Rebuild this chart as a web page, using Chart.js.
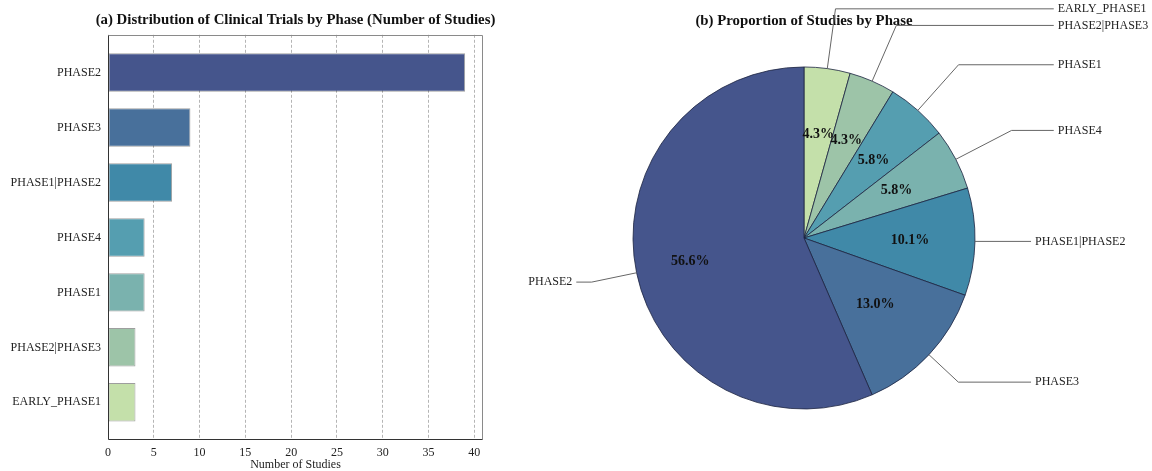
<!DOCTYPE html>
<html><head><meta charset="utf-8">
<script src="https://cdn.jsdelivr.net/npm/chart.js@4.4.1/dist/chart.umd.min.js"></script>
<style>
html,body{margin:0;padding:0;background:#fff;}
#wrap{position:relative;width:1152px;height:471px;overflow:hidden;}
#c1{position:absolute;left:0;top:0;}
#c2{position:absolute;left:500px;top:0;}
</style></head><body>
<div id="wrap"><canvas id="c1" width="520" height="471"></canvas><canvas id="c2" width="652" height="471"></canvas></div>
<script>
// ---------- data ----------
const barCategories = ['PHASE2','PHASE3','PHASE1|PHASE2','PHASE4','PHASE1','PHASE2|PHASE3','EARLY_PHASE1'];
const barCounts = [39, 9, 7, 4, 4, 3, 3];
const xTicks = [0, 5, 10, 15, 20, 25, 30, 35, 40];
const pieCategories = ['EARLY_PHASE1','PHASE2|PHASE3','PHASE1','PHASE4','PHASE1|PHASE2','PHASE3','PHASE2'];
const pieCounts = [3, 3, 4, 4, 7, 9, 39];
const piePctLabels = ['4.3%','4.3%','5.8%','5.8%','10.1%','13.0%','56.6%'];
const barTitle = '(a) Distribution of Clinical Trials by Phase (Number of Studies)';
const pieTitle = '(b) Proportion of Studies by Phase';

// ---------- style / layout ----------
const FONT = "'Liberation Serif','Times New Roman',serif";
const palette = ['#45558c','#48709b','#4089a8','#559eb0','#7ab2ae','#9dc4a8','#c4e0aa'];
const pieColorIndex = [6, 5, 3, 4, 2, 1, 0];
const pieLabelLayout = [[1.484,-1.340],[1.484,-1.243],[1.484,-1.013],[1.484,-0.629],[1.351,0.020],[1.351,0.843],[-1.355,0.258]];
const pctDist = [0.61,0.62,0.61,0.61,0.62,0.57,0.68];

const framePlugin = {
  id:'frame',
  afterDraw(chart){
    const a = chart.chartArea, ctx = chart.ctx;
    const L = Math.round(a.left)+0.5, R = Math.round(a.right)-0.5, T = Math.round(a.top)+0.5, B = Math.round(a.bottom)-0.5;
    ctx.save();
    ctx.lineWidth = 1;
    ctx.strokeStyle = '#8a8a8a';
    ctx.beginPath(); ctx.moveTo(L,T); ctx.lineTo(R,T); ctx.lineTo(R,B); ctx.stroke();
    ctx.strokeStyle = '#333';
    ctx.beginPath(); ctx.moveTo(L,T); ctx.lineTo(L,B); ctx.lineTo(R,B); ctx.stroke();
    // panel title, centred over the plot area
    ctx.fillStyle = '#111';
    ctx.font = 'bold 14.8px ' + FONT;
    ctx.textAlign = 'center'; ctx.textBaseline = 'middle';
    ctx.fillText(barTitle, (a.left + a.right)/2, 20.4);
    ctx.restore();
  }
};

new Chart(document.getElementById('c1'), {
  type:'bar',
  data:{datasets:[{
    data: barCounts.map((v,i)=>({x:v, y:i})),
    backgroundColor: palette,
    borderColor:'rgba(0,0,0,0.38)',
    borderWidth:1,
    borderSkipped:false,
    barPercentage:0.7,
    categoryPercentage:1
  }]},
  options:{
    indexAxis:'y', responsive:false, animation:false,
    layout:{padding:{left:0, right:37, top:34.8, bottom:0}},
    plugins:{ legend:{display:false}, tooltip:{enabled:false}, title:{display:false} },
    scales:{
      x:{type:'linear', min:0, max:40.95,
        afterBuildTicks:s=>{ s.ticks = xTicks.map(v=>({value:v})); },
        afterFit:s=>{ s.height = 31; },
        ticks:{font:{family:FONT, size:12}, color:'#222', padding:6},
        grid:{color:'#b5b5b5', lineWidth:1, drawTicks:false},
        border:{display:false, dash:[3,2]},
        title:{display:true, text:'Number of Studies', font:{family:FONT, size:12, lineHeight:1}, color:'#222', padding:{top:0, bottom:0}}
      },
      y:{type:'linear', reverse:true, offset:false, min:-0.685, max:6.685,
        afterBuildTicks:s=>{ s.ticks = barCategories.map((c,i)=>({value:i})); },
        afterFit:s=>{ s.width = 108; },
        ticks:{font:{family:FONT, size:12}, color:'#222', padding:7, callback:(v)=>barCategories[v]},
        grid:{display:false, drawTicks:false},
        border:{display:false}
      }
    }
  },
  plugins:[framePlugin]
});

const pieLabelPlugin = {
  id:'pieLabels',
  afterDatasetsDraw(chart){
    const ctx = chart.ctx;
    const meta = chart.getDatasetMeta(0);
    ctx.save();
    meta.data.forEach((arc, i)=>{
      const {x, y, startAngle, endAngle, outerRadius:R} = arc.getProps(['x','y','startAngle','endAngle','outerRadius'], true);
      const mid = (startAngle + endAngle)/2;
      const c = Math.cos(mid), s = Math.sin(mid);
      const d = R*pctDist[i];
      ctx.fillStyle = '#111';
      ctx.font = 'bold 14px ' + FONT;
      ctx.textAlign = 'center'; ctx.textBaseline = 'middle';
      ctx.fillText(piePctLabels[i], x + c*d, y + s*d);
      const px = x + c*R, py = y + s*R;
      const lx = x + R*pieLabelLayout[i][0], ly = y + R*pieLabelLayout[i][1];
      const side = Math.sign(pieLabelLayout[i][0]);
      let cx = px;
      if (Math.abs(s) > 1e-3) {
        const t = (ly - py)/s;
        if (t > 0) cx = px + t*c;
      }
      const endX = lx - side*4;
      ctx.strokeStyle = '#666'; ctx.lineWidth = 1;
      ctx.beginPath(); ctx.moveTo(px, py); ctx.lineTo(cx, ly); ctx.lineTo(endX, ly); ctx.stroke();
      ctx.fillStyle = '#222';
      ctx.font = '12px ' + FONT;
      ctx.textAlign = side > 0 ? 'left' : 'right';
      ctx.fillText(pieCategories[i], lx, ly);
    });
    ctx.restore();
  }
};

new Chart(document.getElementById('c2'), {
  type:'pie',
  data:{labels: pieCategories, datasets:[{
    data: pieCounts,
    backgroundColor: pieColorIndex.map(k=>palette[k]),
    borderColor:'#1c2340',
    borderWidth:0.8
  }]},
  options:{
    responsive:false, animation:false, radius:171,
    layout:{padding:{left:104, right:148, top:0, bottom:30.8}},
    plugins:{
      legend:{display:false}, tooltip:{enabled:false},
      title:{display:true, fullSize:false, text:pieTitle,
        color:'#111', font:{family:FONT, size:14.8, weight:'bold'}, padding:{top:12, bottom:6}}
    }
  },
  plugins:[pieLabelPlugin]
});
</script>
</body></html>
